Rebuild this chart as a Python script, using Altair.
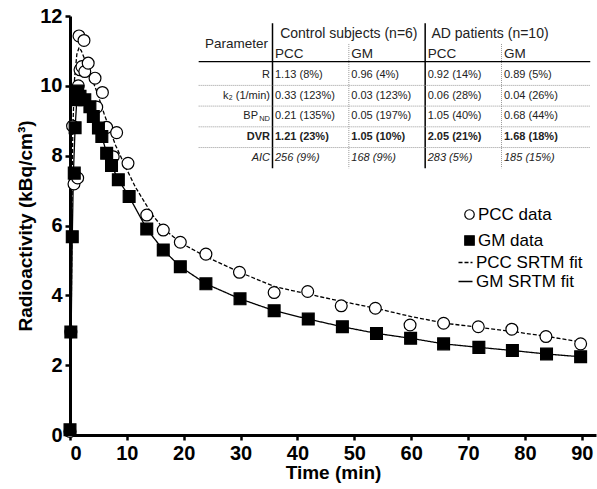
import altair as alt
import pandas as pd

# ---------------- data ----------------
pcc_time = [0.0, 0.15, 0.45, 0.7, 1.35, 1.46, 1.58, 1.76, 2.1, 2.46, 2.6, 3.2, 4.4, 4.7, 5.7,
            6.45, 7.6, 8.2, 10.2, 13.5, 16.4, 19.4, 23.9, 29.8, 35.9, 41.8, 47.7, 53.7, 59.8,
            65.7, 71.8, 77.7, 83.7, 89.8]
pcc_val = [0.1, 2.95, 8.85, 7.19, 7.36, 10.0, 11.43, 10.46, 10.55, 11.30, 10.41, 10.65, 10.22,
           9.39, 9.81, 8.81, 7.97, 8.66, 7.78, 6.30, 5.87, 5.52, 5.18, 4.66, 4.08, 4.11, 3.70,
           3.63, 3.15, 3.20, 3.10, 3.03, 2.82, 2.61]

gm_time = [0.0, 0.15, 0.4, 0.75, 0.9, 1.1, 1.35, 1.76, 2.6, 3.5, 4.1, 5.0, 5.6, 6.45, 7.3, 8.5,
           10.4, 13.5, 16.4, 19.4, 23.9, 29.9, 35.9, 41.9, 47.9, 53.9, 59.9, 65.7, 71.9, 77.8,
           83.8, 89.8]
gm_val = [0.15, 2.95, 5.68, 7.5, 8.8, 9.6, 9.85, 9.7, 9.6, 9.4, 9.12, 8.79, 8.55, 8.07, 7.72,
          7.31, 6.83, 5.9, 5.3, 4.82, 4.33, 3.9, 3.56, 3.32, 3.1, 2.91, 2.77, 2.61, 2.51, 2.42,
          2.32, 2.24]

pcc_fit_time = [0, 0.1, 0.2, 0.35, 0.5, 0.8, 1.2, 1.6, 2.0, 2.5, 3.0, 4.0, 5.0, 6.0, 7.0, 8.0,
                9.0, 10.0, 11.5, 13.0, 14.5, 16.5, 19.5, 24, 30, 36, 42, 48, 54, 60, 66, 72, 78,
                84, 90]
pcc_fit_val = [0, 0.4, 2.9, 6.5, 8.8, 10.2, 10.9, 11.1, 11.0, 10.8, 10.6, 10.15, 9.7, 9.2, 8.75,
               8.3, 7.95, 7.6, 7.1, 6.7, 6.3, 5.9, 5.5, 5.1, 4.65, 4.25, 4.03, 3.82, 3.62, 3.39,
               3.2, 3.08, 2.96, 2.82, 2.66]

gm_fit_time = [0, 0.1, 0.2, 0.4, 0.6, 0.9, 1.2, 1.6, 2.0, 2.6, 3.5, 4.1, 5.0, 5.6, 6.45, 7.3,
               8.5, 10.4, 13.5, 16.4, 19.4, 23.9, 29.9, 35.9, 41.9, 47.9, 53.9, 59.9, 65.7,
               71.9, 77.8, 83.8, 89.8]
gm_fit_val = [0, 0.4, 2.95, 5.68, 7.5, 8.8, 9.6, 9.8, 9.75, 9.6, 9.4, 9.12, 8.79, 8.55, 8.07,
              7.72, 7.31, 6.83, 5.9, 5.3, 4.82, 4.33, 3.9, 3.56, 3.32, 3.1, 2.91, 2.77, 2.61,
              2.51, 2.42, 2.32, 2.24]

series_names = ["PCC data", "GM data"]
fit_names = ["PCC SRTM fit", "GM SRTM fit"]

x_ticks = [0, 10, 20, 30, 40, 50, 60, 70, 80, 90]
y_ticks = [0, 2, 4, 6, 8, 10, 12]

# table content
group_headers = ["Control subjects (n=6)", "AD patients (n=10)"]
sub_headers = ["PCC", "GM", "PCC", "GM"]
row_labels = ["R", "k\u2082 (1/min)", "BP", "DVR", "AIC"]
row_styles = ["normal", "normal", "normal", "bold", "italic"]
table_values = [
    ["1.13 (8%)", "0.96 (4%)", "0.92 (14%)", "0.89 (5%)"],
    ["0.33 (123%)", "0.03 (123%)", "0.06 (28%)", "0.04 (26%)"],
    ["0.21 (135%)", "0.05 (197%)", "1.05 (40%)", "0.68 (44%)"],
    ["1.21 (23%)", "1.05 (10%)", "2.05 (21%)", "1.68 (18%)"],
    ["256 (9%)", "168 (9%)", "283 (5%)", "185 (15%)"],
]

# ---------------- layout ----------------
W, H = 526, 419
FONT = "Liberation Sans, Arial, sans-serif"
TFONT = "Liberation Sans, Arial, sans-serif"
TCOLOR = "#222222"

points_df = pd.concat([
    pd.DataFrame({"t": pcc_time, "v": pcc_val, "series": series_names[0]}),
    pd.DataFrame({"t": gm_time, "v": gm_val, "series": series_names[1]}),
], ignore_index=True)
fits_df = pd.concat([
    pd.DataFrame({"t": pcc_fit_time, "v": pcc_fit_val, "fit": fit_names[0]}),
    pd.DataFrame({"t": gm_fit_time, "v": gm_fit_val, "fit": fit_names[1]}),
], ignore_index=True)

xs = alt.Scale(domain=[0, 92.5], nice=False, zero=False)
ys = alt.Scale(domain=[0, 12], nice=False)

x_enc = alt.X("t:Q", scale=xs, axis=alt.Axis(values=x_ticks, title="Time (min)", titlePadding=0))
y_enc = alt.Y("v:Q", scale=ys, axis=alt.Axis(values=y_ticks, title="Radioactivity (kBq/cm\u00b3)",
                                               titlePadding=4))

leg_common = dict(title=None, orient="none", padding=0, labelFont=FONT, labelFontSize=17,
                  labelColor="black")

lines = alt.Chart(fits_df).mark_line(color="black", strokeWidth=1.3).encode(
    x=x_enc, y=y_enc,
    strokeDash=alt.StrokeDash("fit:N", scale=alt.Scale(domain=fit_names, range=[[4, 2], [1, 0]]),
                              legend=alt.Legend(legendX=387, legendY=238, symbolType="stroke",
                                                symbolSize=196, symbolStrokeColor="black",
                                                symbolStrokeWidth=1.3, rowPadding=1,
                                                labelOffset=2, **leg_common)),
    order="t:Q",
)

pt_legend = alt.Legend(
    legendX=391, legendY=190, symbolSize=90, symbolStrokeColor="black",
    symbolStrokeWidth=1.2, rowPadding=8, labelOffset=0, **leg_common)
points = alt.Chart(points_df).mark_point(size=140, strokeWidth=1.2, opacity=1,
                                         filled=False).encode(
    x=x_enc, y=y_enc,
    shape=alt.Shape("series:N", scale=alt.Scale(domain=series_names, range=["circle", "square"]),
                    legend=pt_legend),
    fill=alt.Fill("series:N", scale=alt.Scale(domain=series_names, range=["white", "black"]),
                  legend=pt_legend),
    stroke=alt.Stroke("series:N", scale=alt.Scale(domain=series_names, range=["black", "black"]),
                      legend=pt_legend),
)

main = alt.layer(lines, points)

# ---------------- table ----------------
tx_scale = alt.Scale(domain=[1, 4], range=[205, 434], nice=False, zero=False)
ty_scale = alt.Scale(domain=[0, 6], range=[17.6, 141.9], nice=False, zero=False)


def TX(f="c"):
    return alt.X(f"{f}:Q", scale=tx_scale, axis=None)


def TY(f="r"):
    return alt.Y(f"{f}:Q", scale=ty_scale, axis=None)


cells = []
for i, lab in enumerate(row_labels):
    for j, val in enumerate(table_values[i]):
        cells.append({"r": i + 2, "c": j + 1, "text": val, "style": row_styles[i]})
cells_df = pd.DataFrame(cells)
labels_df = pd.DataFrame({"r": [i + 2 for i in range(len(row_labels))], "c": 1,
                          "text": row_labels, "style": row_styles})
sub_df = pd.DataFrame({"r": 1, "c": [j + 1 for j in range(len(sub_headers))], "text": sub_headers})
group_df = pd.DataFrame({"r": 0, "c0": [1, 3], "c1": [3, 4.7], "text": group_headers})

VS = 11  # value font size


def txt(df, align, size, weight="normal", style="normal", dx=0, dy=0, filt=None, x=None):
    ch = alt.Chart(df)
    if filt is not None:
        ch = ch.transform_filter(filt)
    return ch.mark_text(align=align, baseline="middle", font=TFONT, fontSize=size,
                        fontWeight=weight, fontStyle=style, color=TCOLOR, dx=dx, dy=dy).encode(
        x=TX(x or "c"), y=TY(), text="text:N")


layers = []
# group headers
layers.append(alt.Chart(group_df).transform_calculate(cm="(datum.c0 + datum.c1) / 2").mark_text(
    align="center", baseline="middle", font=TFONT, fontSize=14, color=TCOLOR, dx=-2.5).encode(
    x=TX("cm"), y=TY(), text="text:N"))
# "Parameter"
layers.append(alt.Chart(pd.DataFrame({"r": [0.5], "c": [1], "text": ["Parameter"]})).mark_text(
    align="right", baseline="middle", font=TFONT, fontSize=13.5, color=TCOLOR, dx=-7).encode(
    x=TX(), y=TY(), text="text:N"))
layers.append(txt(sub_df, "left", 13.5))
# row labels
layers.append(txt(labels_df, "right", VS, dx=-5,
                  filt=(alt.datum.style == "normal") & (alt.datum.text != "BP")))
layers.append(txt(labels_df, "right", VS, dx=-17, filt=alt.datum.text == "BP"))
layers.append(alt.Chart(labels_df).transform_filter(alt.datum.text == "BP").mark_text(
    align="right", baseline="middle", font=TFONT, fontSize=7.5, color=TCOLOR, dx=-5, dy=3).encode(
    x=TX(), y=TY(), text=alt.value("ND")))
layers.append(txt(labels_df, "right", VS, weight="bold", dx=-5, filt=alt.datum.style == "bold"))
layers.append(txt(labels_df, "right", VS, style="italic", dx=-5, filt=alt.datum.style == "italic"))
# values
layers.append(txt(cells_df, "left", VS, filt=alt.datum.style == "normal"))
layers.append(txt(cells_df, "left", VS, weight="bold", filt=alt.datum.style == "bold"))
layers.append(txt(cells_df, "left", VS, style="italic", filt=alt.datum.style == "italic"))

# table rules
vsolid = pd.DataFrame({"c": [1, 3], "r0": -0.5, "r1": 6.5})
vdot = pd.DataFrame({"c": [2, 4], "r0": 0.5, "r1": 6.5})
hsolid = pd.DataFrame({"r": [1.5], "c0": 0, "c1": 5.13})
hdot = pd.DataFrame({"r": [2.5, 3.5, 4.5, 5.5], "c0": 0, "c1": 5.13})

layers.append(alt.Chart(vsolid).mark_rule(color="black", strokeWidth=1.5, xOffset=-2.5).encode(
    x=TX(), y=TY("r0"), y2="r1:Q"))
layers.append(alt.Chart(vdot).mark_rule(color="#999999", strokeWidth=1, strokeDash=[1, 1],
                                        xOffset=-2.5).encode(x=TX(), y=TY("r0"), y2="r1:Q"))
layers.append(alt.Chart(hsolid).mark_rule(color="black", strokeWidth=1.2, yOffset=-3).encode(
    x=TX("c0"), x2="c1:Q", y=TY()))
layers.append(alt.Chart(hdot).mark_rule(color="#999999", strokeWidth=1, strokeDash=[1, 1]).encode(
    x=TX("c0"), x2="c1:Q", y=TY()))

table = alt.layer(*layers)

chart = alt.layer(main, table).resolve_scale(x="independent", y="independent").properties(
    width=W, height=H,
    autosize=alt.AutoSizeParams(type="none"),
    padding={"left": 70, "top": 16, "right": 1, "bottom": 54},
    background="white",
).configure_view(stroke=None).configure_axis(
    domainWidth=3, domainColor="black", tickColor="black", tickWidth=2.5, tickSize=5,
    labelFont=FONT, labelFontSize=20, labelFontWeight="bold", labelColor="black", labelPadding=3,
    titleFont=FONT, titleFontSize=19, titleFontWeight="bold", titleColor="black", grid=False,
)

chart.save("out.html", embed_options={"renderer": "svg", "actions": False})
